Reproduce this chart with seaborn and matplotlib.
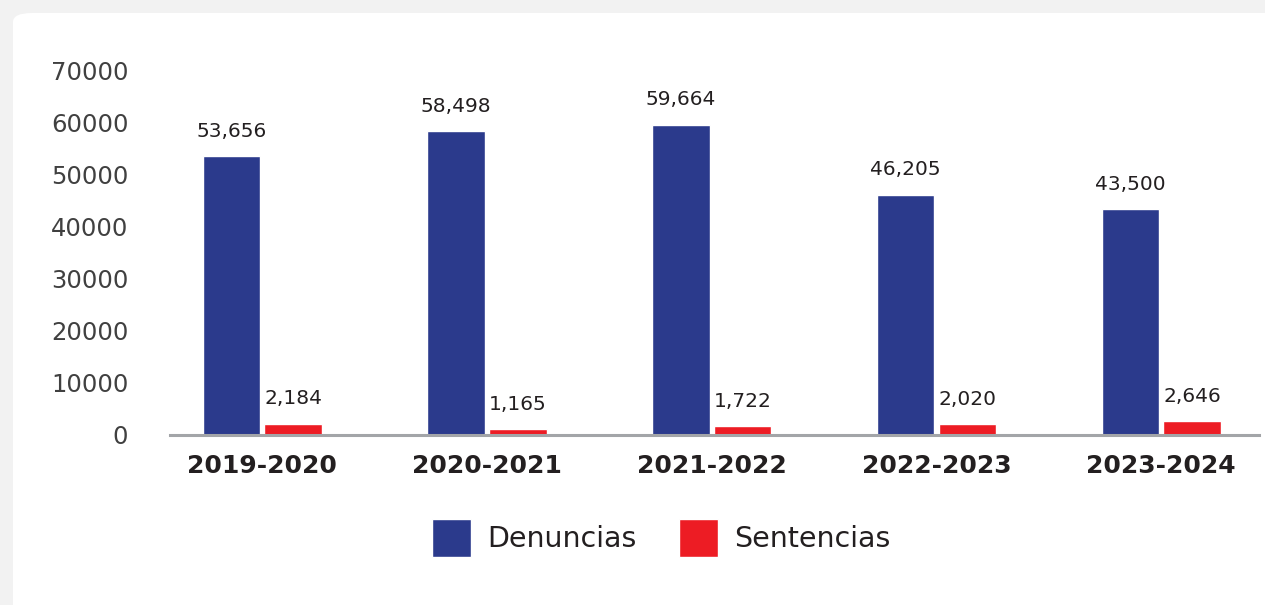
import pandas as pd
import seaborn as sns
import matplotlib.pyplot as plt
import matplotlib.patches as mpatches

periodos = ['2019-2020', '2020-2021', '2021-2022', '2022-2023', '2023-2024']
denuncias = [53656, 58498, 59664, 46205, 43500]
sentencias = [2184, 1165, 1722, 2020, 2646]
series = ['Denuncias', 'Sentencias']
colores = {'Denuncias': '#2B3A8C', 'Sentencias': '#ED1C24'}

df = pd.DataFrame({'periodo': periodos * 2,
                   'serie': ['Denuncias'] * 5 + ['Sentencias'] * 5,
                   'valor': denuncias + sentencias})

sns.set_style('white')
plt.rcParams['font.family'] = ['DejaVu Sans']

fig = plt.figure(figsize=(12.65, 6.05), dpi=100, facecolor='#F2F2F2')
# white card over the light grey page
card = mpatches.FancyBboxPatch((13 / 1265, -0.05), 1.1, 1.05 - 13 / 605,
                               boxstyle='round,pad=0,rounding_size=0.015',
                               transform=fig.transFigure, facecolor='white',
                               edgecolor='none', zorder=-5)
fig.patches.append(card)

ax = fig.add_axes([170 / 1265, 1 - 435 / 605, (1259 - 170) / 1265, (435 - 71) / 605])
ax.set_facecolor('none')
ax.set_zorder(2)

sns.barplot(data=df, x='periodo', y='valor', hue='serie', palette=colores,
            width=0.55, gap=0.07, ax=ax, legend=False, saturation=1)

for cont in ax.containers:
    labels = [f'{int(b.get_height()):,}' for b in cont]
    ax.bar_label(cont, labels=labels, padding=11, fontsize=14.5,
                 color='#231F20', clip_on=False)

ax.set_ylim(0, 70000)
ax.set_xlim(-0.41, 4.435)
ax.set_yticks(range(0, 70001, 10000))
ax.set_yticklabels([str(v) for v in range(0, 70001, 10000)])
ax.set_xlabel('')
ax.set_ylabel('')
ax.tick_params(axis='y', length=0, pad=30, labelsize=17.5, labelcolor='#404040')
ax.tick_params(axis='x', length=0, pad=14, labelsize=18, labelcolor='#231F20')
for t in ax.get_xticklabels():
    t.set_fontweight('bold')

for s in ['top', 'right', 'left']:
    ax.spines[s].set_visible(False)
ax.spines['bottom'].set_color('#A3A5A8')
ax.spines['bottom'].set_linewidth(2.2)

handles = [mpatches.Patch(facecolor=colores[s], label=s) for s in series]
fig.legend(handles=handles, loc='center', bbox_to_anchor=(661 / 1265, 1 - 538 / 605),
           ncol=2, frameon=False, fontsize=20.5, handlelength=1.38, handleheight=1.72,
           handletextpad=0.55, columnspacing=1.5, labelcolor='#231F20')

fig.savefig('out.png', dpi=100, facecolor=fig.get_facecolor())
